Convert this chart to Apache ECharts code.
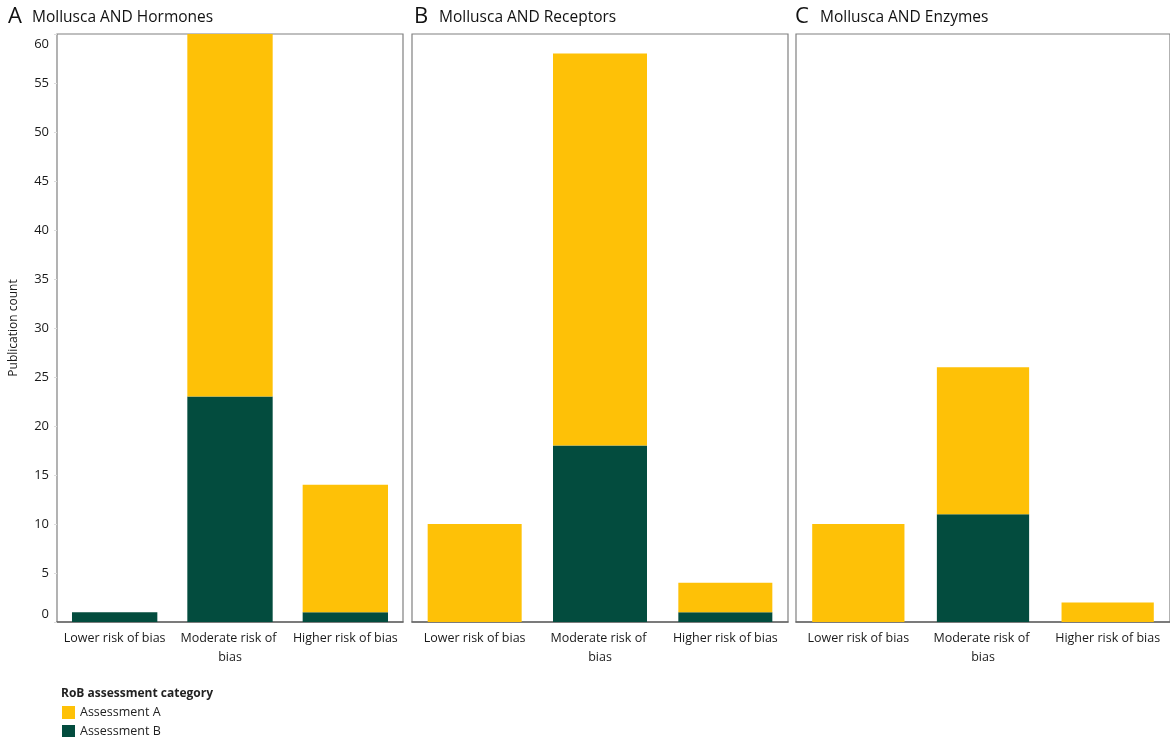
<!DOCTYPE html>
<html>
<head>
<meta charset="utf-8">
<script src="https://cdn.jsdelivr.net/npm/echarts@6/dist/echarts.min.js"></script>
<style>
  html, body { margin: 0; padding: 0; background: #fff; overflow: hidden; }
  #chart { width: 1170px; height: 737px; }
</style>
</head>
<body>
<div id="chart"></div>
<script>
// Risk-of-bias categories shared by all three panels
const categories = ['Lower risk of bias', 'Moderate risk of bias', 'Higher risk of bias'];

// Publication counts per panel (Assessment A stacked on Assessment B)
const hormonesA = [0, 39, 13];
const hormonesB = [1, 23, 1];
const receptorsA = [10, 40, 3];
const receptorsB = [0, 18, 1];
const enzymesA = [10, 15, 2];
const enzymesB = [0, 11, 0];

const panelLetters = ['A', 'B', 'C'];
const panelTitles = ['Mollusca AND Hormones', 'Mollusca AND Receptors', 'Mollusca AND Enzymes'];
const legendTitle = 'RoB assessment category';
const seriesNames = ['Assessment A', 'Assessment B'];
const yAxisName = 'Publication count';

const COLOR_A = '#FEC107';
const COLOR_B = '#034C3E';
const FONT = 'Open Sans, sans-serif';
const TEXT = '#1a1a1a';

const panels = [
  { a: hormonesA, b: hormonesB, left: 57, width: 346, bar: '74%' },
  { a: receptorsA, b: receptorsB, left: 412, width: 376, bar: '75%' },
  { a: enzymesA, b: enzymesB, left: 796, width: 380, bar: '74%' }
];

const chart = echarts.init(document.getElementById('chart'), null, { renderer: 'canvas' });

const grids = [], xAxes = [], yAxes = [], series = [], titles = [];

const tickStyle = { fontSize: 13, color: TEXT, fontFamily: FONT };

panels.forEach((p, i) => {
  grids.push({
    left: p.left, width: p.width, top: 34, bottom: 115,
    show: true, borderColor: '#808080', borderWidth: 1.2, backgroundColor: '#fff'
  });
  xAxes.push({
    type: 'category', gridIndex: i, data: categories,
    axisLine: { show: true, lineStyle: { color: '#666', width: 1.5 } },
    axisTick: { show: false },
    axisLabel: {
      interval: 0, margin: 7, fontSize: 12.5, color: TEXT, fontFamily: FONT,
      width: 112, overflow: 'break', lineHeight: 19
    }
  });
  yAxes.push({
    type: 'value', gridIndex: i, min: 0, max: 60, interval: 5,
    splitLine: { show: false },
    axisLine: { show: false },
    axisTick: { show: i === 0, length: 3, lineStyle: { color: '#ddd' } },
    name: i === 0 ? yAxisName : '',
    nameLocation: 'middle', nameRotate: 90, nameGap: 37,
    nameTextStyle: { fontSize: 12, color: TEXT, fontFamily: FONT },
    axisLabel: {
      show: i === 0, margin: 8,
      formatter: v => v === 0 ? '{b|0}' : (v === 60 ? '{t|60}' : '{n|' + v + '}'),
      rich: {
        n: tickStyle,
        b: Object.assign({ padding: [0, 0, 16, 0] }, tickStyle),
        t: Object.assign({ padding: [20, 0, 0, 0] }, tickStyle)
      }
    }
  });
  series.push({
    name: seriesNames[1], type: 'bar', stack: 'rob' + i,
    xAxisIndex: i, yAxisIndex: i, data: p.b, barWidth: p.bar,
    itemStyle: { color: COLOR_B }, clip: true
  });
  series.push({
    name: seriesNames[0], type: 'bar', stack: 'rob' + i,
    xAxisIndex: i, yAxisIndex: i, data: p.a, barWidth: p.bar,
    itemStyle: { color: COLOR_A }, clip: true
  });
});

const letterX = [8, 414, 795];
const titleX = [32, 439, 820];
panelLetters.forEach((l, i) => {
  titles.push({
    text: l, left: letterX[i], top: 6, padding: 0,
    textStyle: { fontSize: 22, fontWeight: 'normal', color: '#111', fontFamily: FONT }
  });
  titles.push({
    text: panelTitles[i], left: titleX[i], top: 10, padding: 0,
    textStyle: { fontSize: 15.5, fontWeight: 'normal', color: '#111', fontFamily: FONT }
  });
});
titles.push({
  text: legendTitle, left: 61, top: 688, padding: 0,
  textStyle: { fontSize: 12, fontWeight: 'bold', color: '#222', fontFamily: FONT }
});

chart.setOption({
  animation: false,
  backgroundColor: '#fff',
  title: titles,
  grid: grids,
  xAxis: xAxes,
  yAxis: yAxes,
  legend: {
    data: seriesNames,
    orient: 'vertical', left: 62, top: 706, height: 34, padding: 0,
    icon: 'rect', itemWidth: 13, itemHeight: 13, itemGap: 6,
    textStyle: { fontSize: 12.5, color: '#222', fontFamily: FONT }
  },
  series: series
});
</script>
</body>
</html>
